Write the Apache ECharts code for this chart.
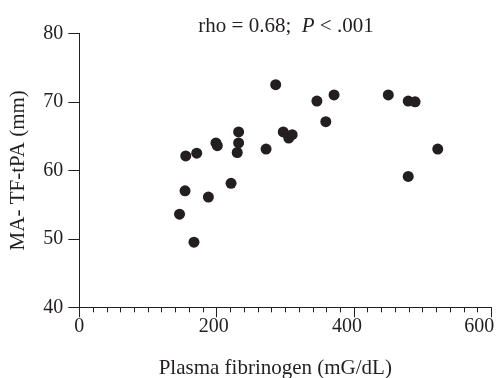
<!DOCTYPE html>
<html><head><meta charset="utf-8">
<script src="https://cdn.jsdelivr.net/npm/echarts@6/dist/echarts.min.js"></script>
<style>html,body{margin:0;padding:0;background:#fff}#c{width:500px;height:378px}</style>
</head><body><div id="c"></div>
<script>
const fibrinogen = [146, 154, 155, 167, 171, 188, 199, 201, 221, 230, 232, 232, 272, 286, 297, 305, 310, 346, 359, 371, 450, 479, 479, 489, 522];
const maTF = [53.6, 57, 62.1, 49.5, 62.5, 56.1, 64, 63.6, 58.1, 62.6, 64, 65.6, 63.1, 72.5, 65.6, 64.7, 65.2, 70.1, 67.1, 71, 71, 59.1, 70.1, 70, 63.1];
const xTicks = [0, 200, 400, 600];
const yTicks = [40, 50, 60, 70, 80];
const titleText = 'rho = 0.68;  ';
const xName = 'Plasma fibrinogen (mG/dL)';
const yName = 'MA- TF-tPA (mm)';

const ink = '#231f20';
const font = 'Liberation Serif';
const lab = { fontFamily: font, fontSize: 20, color: ink };
const chart = echarts.init(document.getElementById('c'));
chart.setOption({
  animation: false,
  backgroundColor: '#fff',
  title: {
    text: '{a|' + titleText + '}{i|P}{a| < .001}',
    left: 281, top: 11, textAlign: 'center',
    textStyle: { fontWeight: 'normal', rich: {
      a: { fontFamily: font, fontSize: 21, fontWeight: 'normal', color: ink },
      i: { fontFamily: font, fontSize: 21, fontWeight: 'normal', fontStyle: 'italic', color: ink }
    } }
  },
  grid: { left: 79.3, right: 8.7, top: 33.3, bottom: 70.7, containLabel: false, outerBoundsMode: 'none' },
  xAxis: {
    type: 'value', min: xTicks[0], max: xTicks[xTicks.length - 1], interval: 200,
    name: xName, nameLocation: 'middle', nameGap: 51,
    nameTextStyle: { fontFamily: font, fontSize: 21, color: ink, padding: [0, 20, 0, 0] },
    axisLine: { lineStyle: { color: ink, width: 1 } },
    axisTick: { length: 10, lineStyle: { color: ink } },
    minorTick: { show: true, splitNumber: 10, length: 5, lineStyle: { color: ink } },
    axisLabel: {
      fontFamily: font, fontSize: 20, color: ink, margin: 9,
      formatter: v => '{s' + v + '|' + v + '}',
      rich: {
        s0: lab,
        s200: Object.assign({ padding: [0, 6, 0, 0] }, lab),
        s400: Object.assign({ padding: [0, 14, 0, 0] }, lab),
        s600: Object.assign({ padding: [0, 24, 0, 0] }, lab)
      }
    },
    splitLine: { show: false }
  },
  yAxis: {
    type: 'value', min: yTicks[0], max: yTicks[yTicks.length - 1], interval: 10,
    name: yName, nameLocation: 'middle', nameGap: 50,
    nameTextStyle: { fontFamily: font, fontSize: 21, color: ink },
    axisLine: { show: true, lineStyle: { color: ink, width: 1 } },
    axisTick: { show: true, length: 11, lineStyle: { color: ink } },
    axisLabel: { fontFamily: font, fontSize: 20, color: ink, margin: 16 },
    splitLine: { show: false }
  },
  series: [{
    type: 'scatter',
    data: fibrinogen.map((x, i) => [x, maTF[i]]),
    symbolSize: 11,
    itemStyle: { color: ink, opacity: 1 }
  }]
});
</script></body></html>
